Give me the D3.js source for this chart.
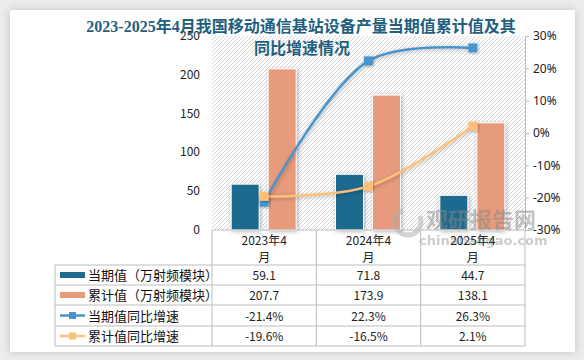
<!DOCTYPE html>
<html>
<head>
<meta charset="utf-8">
<script src="https://cdn.jsdelivr.net/npm/d3@7"></script>
<style>
body{margin:0;background:#ececec;font-family:"Noto Sans CJK SC","Noto Sans",sans-serif;}
</style>
</head>
<body>
<svg id="chart" width="584" height="360"></svg>
<script>
// data
const categories = ["2023年4月", "2024年4月", "2025年4月"];
const catLines = [["2023年4", "月"], ["2024年4", "月"], ["2025年4", "月"]];
const current = [59.1, 71.8, 44.7];
const cumulative = [207.7, 173.9, 138.1];
const currentYoY = [-21.4, 22.3, 26.3];
const cumulativeYoY = [-19.6, -16.5, 2.1];
const leftTicks = [0, 50, 100, 150, 200, 250];
const rightTicks = [-30, -20, -10, 0, 10, 20, 30];

const c1 = "#1f6a8e", c2 = "#e89b7b", c3 = "#4a94cc", c4 = "#ffbf78";

const svg = d3.select("#chart");
const defs = svg.append("defs");
const pat = defs.append("pattern").attr("id", "hatch").attr("patternUnits", "userSpaceOnUse")
  .attr("width", 4).attr("height", 4);
pat.append("rect").attr("width", 4).attr("height", 4).attr("fill", "#fff");
pat.append("path").attr("d", "M-1,1 l2,-2 M0,4 l4,-4 M3,5 l2,-2").attr("stroke", "#d6d6d6").attr("stroke-width", 1);
const sh = defs.append("filter").attr("id", "sh").attr("x", "-20%").attr("y", "-20%").attr("width", "140%").attr("height", "140%");
sh.append("feDropShadow").attr("dx", 1).attr("dy", 1).attr("stdDeviation", 2).attr("flood-color", "#000").attr("flood-opacity", 0.3);
const psh = defs.append("filter").attr("id", "psh").attr("x", "-10%").attr("y", "-10%").attr("width", "120%").attr("height", "120%");
psh.append("feDropShadow").attr("dx", 0).attr("dy", 0).attr("stdDeviation", 4).attr("flood-color", "#000").attr("flood-opacity", 0.18);

// panel
svg.append("rect").attr("x", 10).attr("y", 10).attr("width", 565).attr("height", 342)
  .attr("fill", "#fff").attr("filter", "url(#psh)");

const pLeft = 212, pRight = 525, pTop = 36, pBottom = 230;

const x = d3.scaleBand().domain(categories).range([pLeft, pRight]);
const y = d3.scaleLinear().domain([0, 250]).range([pBottom, pTop]);
const y2 = d3.scaleLinear().domain([-30, 30]).range([pBottom, pTop]);

svg.append("rect").attr("x", pLeft).attr("y", pTop).attr("width", pRight - pLeft).attr("height", pBottom - pTop)
  .attr("fill", "url(#hatch)");

// left axis labels
svg.append("g").selectAll("text").data(leftTicks).join("text")
  .attr("x", 200).attr("y", d => y(d) + 4).attr("text-anchor", "end")
  .attr("font-size", 12).attr("fill", "#222").text(d => d);

// right axis
const yAxisR = d3.axisRight(y2).tickValues(rightTicks).tickSize(4).tickFormat(d => d + "%");
const gr = svg.append("g").attr("transform", `translate(${pRight},0)`).call(yAxisR);
gr.select(".domain").attr("stroke", "#bbb");
gr.selectAll(".tick line").attr("stroke", "#bbb");
gr.selectAll(".tick text").attr("font-size", 12).attr("fill", "#222").attr("x", 8)
  .attr("font-family", "'Noto Sans','DejaVu Sans',sans-serif");

// bars
const bw = 28;
svg.append("g").selectAll("rect").data(current).join("rect")
  .attr("x", (d, i) => x(categories[i]) + x.bandwidth() / 2 - 19 - bw / 2)
  .attr("y", d => y(d)).attr("width", bw).attr("height", d => y(0) - y(d))
  .attr("fill", c1).attr("stroke", "#fff").attr("stroke-width", 1).attr("filter", "url(#sh)");
svg.append("g").selectAll("rect").data(cumulative).join("rect")
  .attr("x", (d, i) => x(categories[i]) + x.bandwidth() / 2 + 18 - bw / 2)
  .attr("y", d => y(d)).attr("width", bw).attr("height", d => y(0) - y(d))
  .attr("fill", c2).attr("stroke", "#fff").attr("stroke-width", 1).attr("filter", "url(#sh)");

// watermark
const wm = svg.append("g").attr("opacity", 0.5);
wm.append("circle").attr("cx", 408).attr("cy", 222).attr("r", 13).attr("fill", "none")
  .attr("stroke", "#aaa").attr("stroke-width", 5).attr("stroke-dasharray", "55 20");
wm.append("text").attr("x", 426).attr("y", 228).attr("font-size", 22).attr("font-weight", "bold")
  .attr("fill", "#888").text("观研报告网");
wm.append("text").attr("x", 419).attr("y", 245).attr("font-size", 13).attr("font-weight", "bold")
  .attr("fill", "#999").attr("font-family", "'DejaVu Sans',sans-serif").text("chinabaogao.com");

// lines
const cx = i => x(categories[i]) + x.bandwidth() / 2;
const line = d3.line().x((d, i) => cx(i)).y(d => y2(d)).curve(d3.curveCatmullRom.alpha(0.5));
[[currentYoY, c3], [cumulativeYoY, c4]].forEach(([vals, col]) => {
  svg.append("path").datum(vals).attr("d", line).attr("fill", "none")
    .attr("stroke", col).attr("stroke-width", 2.5).attr("filter", "url(#sh)");
  svg.append("g").selectAll("rect").data(vals).join("rect")
    .attr("x", (d, i) => cx(i) - 4.5).attr("y", d => y2(d) - 4.5)
    .attr("width", 9).attr("height", 9).attr("fill", col).attr("filter", "url(#sh)");
});

// table
const tb = svg.append("g");
const rowsY = [265, 285, 305, 326, 346];
const gridC = "#bdbdbd";
[pLeft, ...categories.map(c => x(c) + x.bandwidth())].forEach(v => {
  tb.append("line").attr("x1", v).attr("x2", v).attr("y1", pBottom).attr("y2", 346)
    .attr("stroke", gridC);
});
tb.append("line").attr("x1", 55).attr("x2", 55).attr("y1", 265).attr("y2", 346).attr("stroke", gridC);
tb.append("line").attr("x1", pLeft).attr("x2", pRight).attr("y1", pBottom).attr("y2", pBottom).attr("stroke", gridC);
rowsY.forEach(v => {
  tb.append("line").attr("x1", 55).attr("x2", pRight).attr("y1", v).attr("y2", v).attr("stroke", gridC);
});
catLines.forEach((ls, i) => {
  ls.forEach((t, j) => {
    tb.append("text").attr("x", cx(i)).attr("y", 245 + j * 17).attr("text-anchor", "middle")
      .attr("font-size", 12).attr("fill", "#222").text(t);
  });
});
const rows = [
  {name: "当期值（万射频模块）", vals: current.map(d => d.toFixed(1)), col: c1, type: "bar"},
  {name: "累计值（万射频模块）", vals: cumulative.map(d => d.toFixed(1)), col: c2, type: "bar"},
  {name: "当期值同比增速", vals: currentYoY.map(d => d.toFixed(1) + "%"), col: c3, type: "line"},
  {name: "累计值同比增速", vals: cumulativeYoY.map(d => d.toFixed(1) + "%"), col: c4, type: "line"}
];
rows.forEach((r, k) => {
  const ym = (rowsY[k] + rowsY[k + 1]) / 2;
  if (r.type === "bar") {
    tb.append("rect").attr("x", 60).attr("y", ym - 3).attr("width", 25).attr("height", 6).attr("fill", r.col);
  } else {
    tb.append("line").attr("x1", 60).attr("x2", 85).attr("y1", ym).attr("y2", ym)
      .attr("stroke", r.col).attr("stroke-width", 2.5);
    tb.append("rect").attr("x", 69).attr("y", ym - 3.5).attr("width", 7).attr("height", 7).attr("fill", r.col);
  }
  tb.append("text").attr("x", 88).attr("y", ym + 5).attr("font-size", 13).attr("fill", "#111").text(r.name);
  r.vals.forEach((v, i) => {
    tb.append("text").attr("x", cx(i)).attr("y", ym + 5).attr("text-anchor", "middle")
      .attr("font-size", 12).attr("fill", "#222").text(v);
  });
});

// title
const title = svg.append("g").attr("font-weight", "bold").attr("font-size", 16).attr("fill", "#1f5f80")
  .attr("font-family", "'Liberation Serif','Noto Sans CJK SC',serif")
  .attr("text-anchor", "middle");
title.append("text").attr("x", 301).attr("y", 32).text("2023-2025年4月我国移动通信基站设备产量当期值累计值及其");
title.append("text").attr("x", 302).attr("y", 54).text("同比增速情况");
</script>
</body>
</html>
